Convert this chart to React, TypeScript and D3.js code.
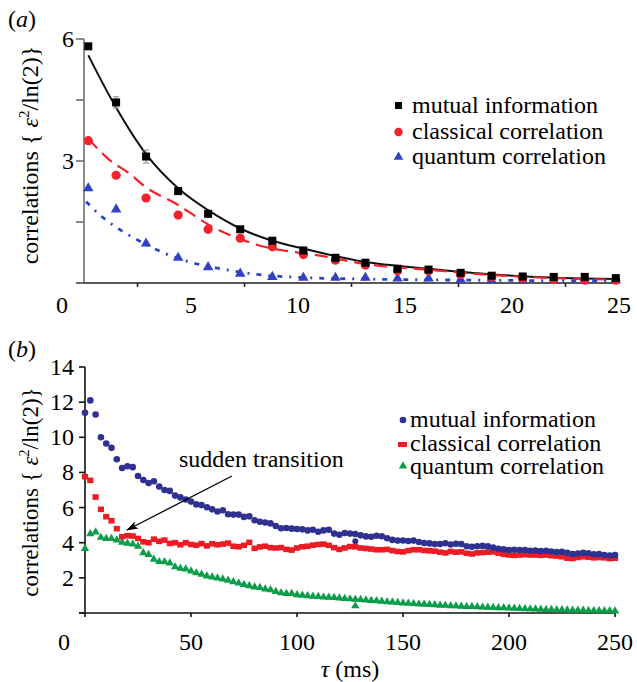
import * as d3 from "d3";

// ---- panel (a) data ----
const tauA = [0.2, 1.5, 2.9, 4.4, 5.8, 7.3, 8.8, 10.25, 11.75, 13.15, 14.65, 16.1, 17.6, 19.05, 20.5, 21.95, 23.4, 24.85];
const mutualA = [5.82, 4.44, 3.11, 2.26, 1.7, 1.32, 1.04, 0.8, 0.62, 0.5, 0.35, 0.33, 0.25, 0.18, 0.16, 0.15, 0.15, 0.12];
const mutualErrA = [0.06, 0.14, 0.16, 0.08, 0.06, 0.05, 0.04, 0.04, 0.03, 0.03, 0.03, 0.03, 0.02, 0.02, 0.02, 0.02, 0.02, 0.02];
const classicalA = [3.5, 2.65, 2.09, 1.67, 1.32, 1.1, 0.89, 0.7, 0.56, 0.44, 0.3, 0.3, 0.21, 0.15, 0.11, 0.08, 0.07, 0.07];
const quantumA = [2.33, 1.81, 0.97, 0.62, 0.39, 0.23, 0.15, 0.13, 0.13, 0.13, 0.11, 0.11, 0.08, 0.06, 0.06, 0.06, 0.06, 0.06];

// fitted curves
const fitMutualX = [0.2, 1.3, 2.9, 4.4, 5.8, 7.3, 8.8, 10.3, 13.1, 16.1, 19.1, 22, 25];
const fitMutualY = [5.6, 4.5, 3.17, 2.33, 1.79, 1.34, 1.04, 0.84, 0.52, 0.35, 0.21, 0.13, 0.1];
const fitClassicalX = [0.2, 1.2, 2.1, 2.85, 4.3, 6.0, 7.9, 11.4, 13.1, 16, 19, 22, 25];
const fitClassicalY = [3.55, 3.02, 2.7, 2.37, 1.95, 1.38, 0.97, 0.64, 0.47, 0.33, 0.2, 0.12, 0.08];
const fitQuantumX = [0.1, 0.75, 1.53, 2.5, 3.0, 4.0, 5.2, 6.6, 8.1, 10.5, 14, 18, 25];
const fitQuantumY = [2.0, 1.67, 1.36, 1.06, 0.92, 0.68, 0.48, 0.33, 0.21, 0.13, 0.09, 0.07, 0.05];

const xTicksA = [5, 10, 15, 20, 25];
const yTicksA = [3, 6];

// ---- panel (b) data, sampled every 2.5 ms ----
const tauB = d3.range(0, 250.1, 2.5);
const mutualB = [
  11.4, 12.1, 11.3, 10.0, 9.65, 9.4, 8.75, 8.25, 8.35, 8.3,
  7.8, 7.57, 7.4, 7.5, 7.2, 7.0, 6.95, 6.68, 6.58, 6.46,
  6.34, 6.18, 6.14, 6.02, 5.9, 5.78, 5.85, 5.62, 5.6, 5.6,
  5.47, 5.5, 5.28, 5.19, 5.15, 5.1, 4.95, 4.82, 4.84, 4.8,
  4.78, 4.76, 4.7, 4.74, 4.62, 4.7, 4.74, 4.52, 4.45, 4.55,
  4.52, 4.5, 4.42, 4.36, 4.34, 4.4, 4.37, 4.25, 4.16, 4.12,
  4.13, 4.1, 4.12, 4.04, 3.98, 3.96, 3.93, 3.92, 3.97, 3.9,
  3.94, 3.92, 3.8, 3.77, 3.8, 3.82, 3.79, 3.72, 3.66, 3.62,
  3.58, 3.6, 3.58, 3.58, 3.54, 3.56, 3.52, 3.54, 3.5, 3.47,
  3.48, 3.42, 3.35, 3.38, 3.42, 3.4, 3.34, 3.35, 3.3, 3.27,
  3.3,
];
const classicalB = [
  7.76, 7.55, 6.6, 5.9, 5.48, 5.25, 4.8, 4.34, 4.4, 4.38,
  4.24, 4.05, 4.0, 4.2, 4.08, 4.15, 3.96, 4.0, 3.88, 4.0,
  3.9, 3.86, 3.95, 3.82, 3.94, 3.88, 3.92, 3.98, 3.8, 3.77,
  3.85, 4.02, 3.68, 3.76, 3.8, 3.72, 3.7, 3.72, 3.62, 3.58,
  3.7, 3.77, 3.8, 3.86, 3.9, 3.92, 3.85, 3.72, 3.62, 3.7,
  3.78, 3.77, 3.7, 3.67, 3.64, 3.6, 3.6, 3.62, 3.55, 3.5,
  3.48, 3.55, 3.6, 3.6, 3.56, 3.54, 3.52, 3.46, 3.42, 3.5,
  3.46, 3.48, 3.4, 3.36, 3.42, 3.44, 3.46, 3.48, 3.4, 3.34,
  3.3, 3.28, 3.3, 3.32, 3.3, 3.3, 3.28, 3.3, 3.26, 3.24,
  3.2, 3.12, 3.1, 3.16, 3.2, 3.18, 3.14, 3.16, 3.14, 3.1,
  3.12,
];
const quantumB = [
  3.67, 4.5, 4.6, 4.3, 4.24, 4.24, 4.15, 4.02, 3.96, 3.92,
  3.8, 3.42, 3.32, 3.05, 2.92, 2.91, 2.84, 2.62, 2.54, 2.5,
  2.38, 2.28, 2.2, 2.1, 2.04, 1.99, 1.93, 1.86, 1.78, 1.7,
  1.62, 1.55, 1.47, 1.45, 1.36, 1.32, 1.22, 1.14, 1.1, 1.1,
  1.04, 1.0, 0.98, 0.95, 0.93, 0.9, 0.89, 0.88, 0.85, 0.82,
  0.8, 0.78, 0.76, 0.73, 0.71, 0.69, 0.67, 0.64, 0.62, 0.59,
  0.57, 0.55, 0.53, 0.51, 0.49, 0.48, 0.46, 0.44, 0.43, 0.41,
  0.4, 0.38, 0.37, 0.36, 0.35, 0.33, 0.32, 0.31, 0.3, 0.29,
  0.28, 0.27, 0.25, 0.24, 0.23, 0.22, 0.21, 0.2, 0.19, 0.18,
  0.18, 0.17, 0.16, 0.15, 0.15, 0.14, 0.13, 0.13, 0.12, 0.12,
  0.11,
];
// stray points near 127 ms
const strayTau = [127.5];
const strayMutual = [4.09];
const strayQuantum = [0.4];

const xTicksB = [50, 100, 150, 200, 250];
const yTicksB = [2, 4, 6, 8, 10, 12, 14];

const FONT = "Liberation Serif";

const seriesNames = ["mutual information", "classical correlation", "quantum correlation"];

// every text element gets the family directly
const T = (props: any) => <text fontFamily={FONT} fill="#000" {...props} />;

export default function App() {
  // scales
  const xA = d3.scaleLinear().domain([0, 25]).range([84, 619]);
  const yA = d3.scaleLinear().domain([0, 6]).range([283, 39]);
  const xB = d3.scaleLinear().domain([0, 250]).range([85, 615]);
  const yB = d3.scaleLinear().domain([0, 14]).range([613, 367]);

  const fitLine = (xs: number[], ys: number[]) =>
    d3
      .line<number>()
      .x((_, i) => xA(xs[i]))
      .y((_, i) => yA(ys[i]))
      .curve(d3.curveMonotoneX)(xs) || "";

  const tri = (size: number) => d3.symbol(d3.symbolTriangle, size)() || "";

  const blueA = "#2f42c4";
  const redA = "#f5222d";
  const blueB = "#2e3192";
  const redB = "#ed1c24";
  const greenB = "#0b9d4a";

  return (
    <svg width={637} height={682} style={{ position: "absolute", left: 0, top: 0, background: "#fff" }}>
      <defs>
        <marker id="arrowHead" viewBox="0 0 12 8" refX="11" refY="4" markerWidth="12" markerHeight="8" markerUnits="userSpaceOnUse" orient="auto">
          <path d="M0,0 L12,4 L0,8 L3,4 Z" fill="#000" />
        </marker>
      </defs>

      {/* ================= panel (a) ================= */}
      <T x={8} y={27} fontSize={24}>
        (<tspan fontStyle="italic">a</tspan>)
      </T>

      {/* axes */}
      <g stroke="#6f6f6f" strokeWidth={1.6}>
        <line x1={xA(0)} x2={xA(0)} y1={yA(6)} y2={yA(0)} />
        <line x1={76} x2={xA(25)} y1={yA(0)} y2={yA(0)} stroke="#222" />
        {[0, 1.5, 3, 4.5, 6].map((v) => (
          <line key={v} x1={76} x2={xA(0)} y1={yA(v)} y2={yA(v)} />
        ))}
        {[2.5, 7.5, 12.5, 17.5, 22.5].map((v) => (
          <line key={v} x1={xA(v)} x2={xA(v)} y1={yA(0)} y2={yA(0) + 4} stroke="#222" />
        ))}
      </g>
      {xTicksA.map((v) => (
        <T key={v} x={xA(v)} y={313} fontSize={24} textAnchor="middle">
          {v}
        </T>
      ))}
      <T x={62} y={313} fontSize={24} textAnchor="middle">0</T>
      {yTicksA.map((v) => (
        <T key={v} x={74} y={yA(v) + 8} fontSize={24} textAnchor="end">
          {v}
        </T>
      ))}
      <T transform="translate(38,155) rotate(-90)" fontSize={24} textAnchor="middle">
        correlations {"{ "}
        <tspan fontStyle="italic">ε</tspan>
        <tspan dy={-9} fontSize={15}>2</tspan>
        <tspan dy={9}>/ln(2)</tspan>
        {"}"}
      </T>

      {/* fits */}
      <path d={fitLine(fitMutualX, fitMutualY)} fill="none" stroke="#111" strokeWidth={2} />
      <path d={fitLine(fitClassicalX, fitClassicalY)} fill="none" stroke={redA} strokeWidth={2.2} strokeDasharray="13 7" />
      <path d={fitLine(fitQuantumX, fitQuantumY)} fill="none" stroke={blueA} strokeWidth={2.8} strokeDasharray="5 7 2 7" />

      {/* error bars */}
      <g stroke="#999" strokeWidth={1.2}>
        {tauA.map((t, i) => (
          <g key={i}>
            <line x1={xA(t)} x2={xA(t)} y1={yA(mutualA[i] + mutualErrA[i])} y2={yA(mutualA[i] - mutualErrA[i])} />
            <line x1={xA(t) - 3} x2={xA(t) + 3} y1={yA(mutualA[i] + mutualErrA[i])} y2={yA(mutualA[i] + mutualErrA[i])} />
            <line x1={xA(t) - 3} x2={xA(t) + 3} y1={yA(mutualA[i] - mutualErrA[i])} y2={yA(mutualA[i] - mutualErrA[i])} />
          </g>
        ))}
      </g>

      {/* markers */}
      {tauA.map((t, i) => (
        <path key={"qa" + i} d={tri(48)} transform={`translate(${xA(t)},${yA(quantumA[i])})`} fill={blueA} />
      ))}
      {tauA.map((t, i) => (
        <circle key={"ca" + i} cx={xA(t)} cy={yA(classicalA[i])} r={4.6} fill={redA} />
      ))}
      {tauA.map((t, i) => (
        <rect key={"ma" + i} x={xA(t) - 4} y={yA(mutualA[i]) - 4} width={8} height={8} fill="#000" />
      ))}

      {/* legend (a) */}
      <rect x={395} y={102} width={7} height={7} fill="#000" />
      <circle cx={398.5} cy={132} r={4.2} fill={redA} />
      <path d={tri(40)} transform="translate(398.5,157)" fill={blueA} />
      {seriesNames.map((n, i) => (
        <T key={n} x={412} y={113 + i * 25.5} fontSize={24}>
          {n}
        </T>
      ))}

      {/* ================= panel (b) ================= */}
      <T x={8} y={357} fontSize={24}>
        (<tspan fontStyle="italic">b</tspan>)
      </T>

      <g stroke="#111" strokeWidth={1.6}>
        <line x1={xB(0)} x2={xB(0)} y1={yB(14)} y2={yB(0)} />
        <line x1={79} x2={xB(250)} y1={yB(0)} y2={yB(0)} />
        {[0, ...yTicksB].map((v) => (
          <line key={v} x1={79} x2={xB(0)} y1={yB(v)} y2={yB(v)} />
        ))}
        {[0, ...xTicksB].map((v) => (
          <line key={v} x1={xB(v)} x2={xB(v)} y1={yB(0)} y2={yB(0) + 4} />
        ))}
      </g>
      {xTicksB.map((v) => (
        <T key={v} x={xB(v)} y={650} fontSize={24} textAnchor="middle">
          {v}
        </T>
      ))}
      <T x={64} y={650} fontSize={24} textAnchor="middle">0</T>
      {yTicksB.map((v) => (
        <T key={v} x={74} y={yB(v) + 8} fontSize={24} textAnchor="end">
          {v}
        </T>
      ))}
      <T transform="translate(38,492) rotate(-90)" fontSize={23} textAnchor="middle">
        correlations {"{ "}
        <tspan fontStyle="italic">ε</tspan>
        <tspan dy={-9} fontSize={14}>2</tspan>
        <tspan dy={9}>/ln(2)</tspan>
        {"}"}
      </T>
      <T x={350} y={677} fontSize={24} textAnchor="middle">
        <tspan fontStyle="italic">τ</tspan> (ms)
      </T>

      {/* series */}
      {tauB.map((t, i) => (
        <path key={"qb" + i} d={tri(30)} transform={`translate(${xB(t)},${yB(quantumB[i])})`} fill={greenB} />
      ))}
      {strayTau.map((t, i) => (
        <path key={"qs" + i} d={tri(30)} transform={`translate(${xB(t)},${yB(strayQuantum[i])})`} fill={greenB} />
      ))}
      {tauB.map((t, i) => (
        <rect key={"cb" + i} x={xB(t) - 3.1} y={yB(classicalB[i]) - 2.8} width={6.2} height={5.6} fill={redB} />
      ))}
      {tauB.map((t, i) => (
        <circle key={"mb" + i} cx={xB(t)} cy={yB(mutualB[i])} r={3.3} fill={blueB} />
      ))}
      {strayTau.map((t, i) => (
        <circle key={"ms" + i} cx={xB(t)} cy={yB(strayMutual[i])} r={3} fill={blueB} />
      ))}

      {/* annotation */}
      <T x={179} y={467} fontSize={24}>
        sudden transition
      </T>
      <line x1={232} y1={476} x2={127} y2={530} stroke="#000" strokeWidth={1.3} markerEnd="url(#arrowHead)" />

      {/* legend (b) */}
      <circle cx={403} cy={420} r={3.3} fill={blueB} />
      <rect x={398} y={442} width={9} height={5} fill={redB} />
      <path d={tri(30)} transform="translate(403,466)" fill={greenB} />
      {seriesNames.map((n, i) => (
        <T key={n} x={410} y={427 + i * 23.5} fontSize={24}>
          {n}
        </T>
      ))}
    </svg>
  );
}
